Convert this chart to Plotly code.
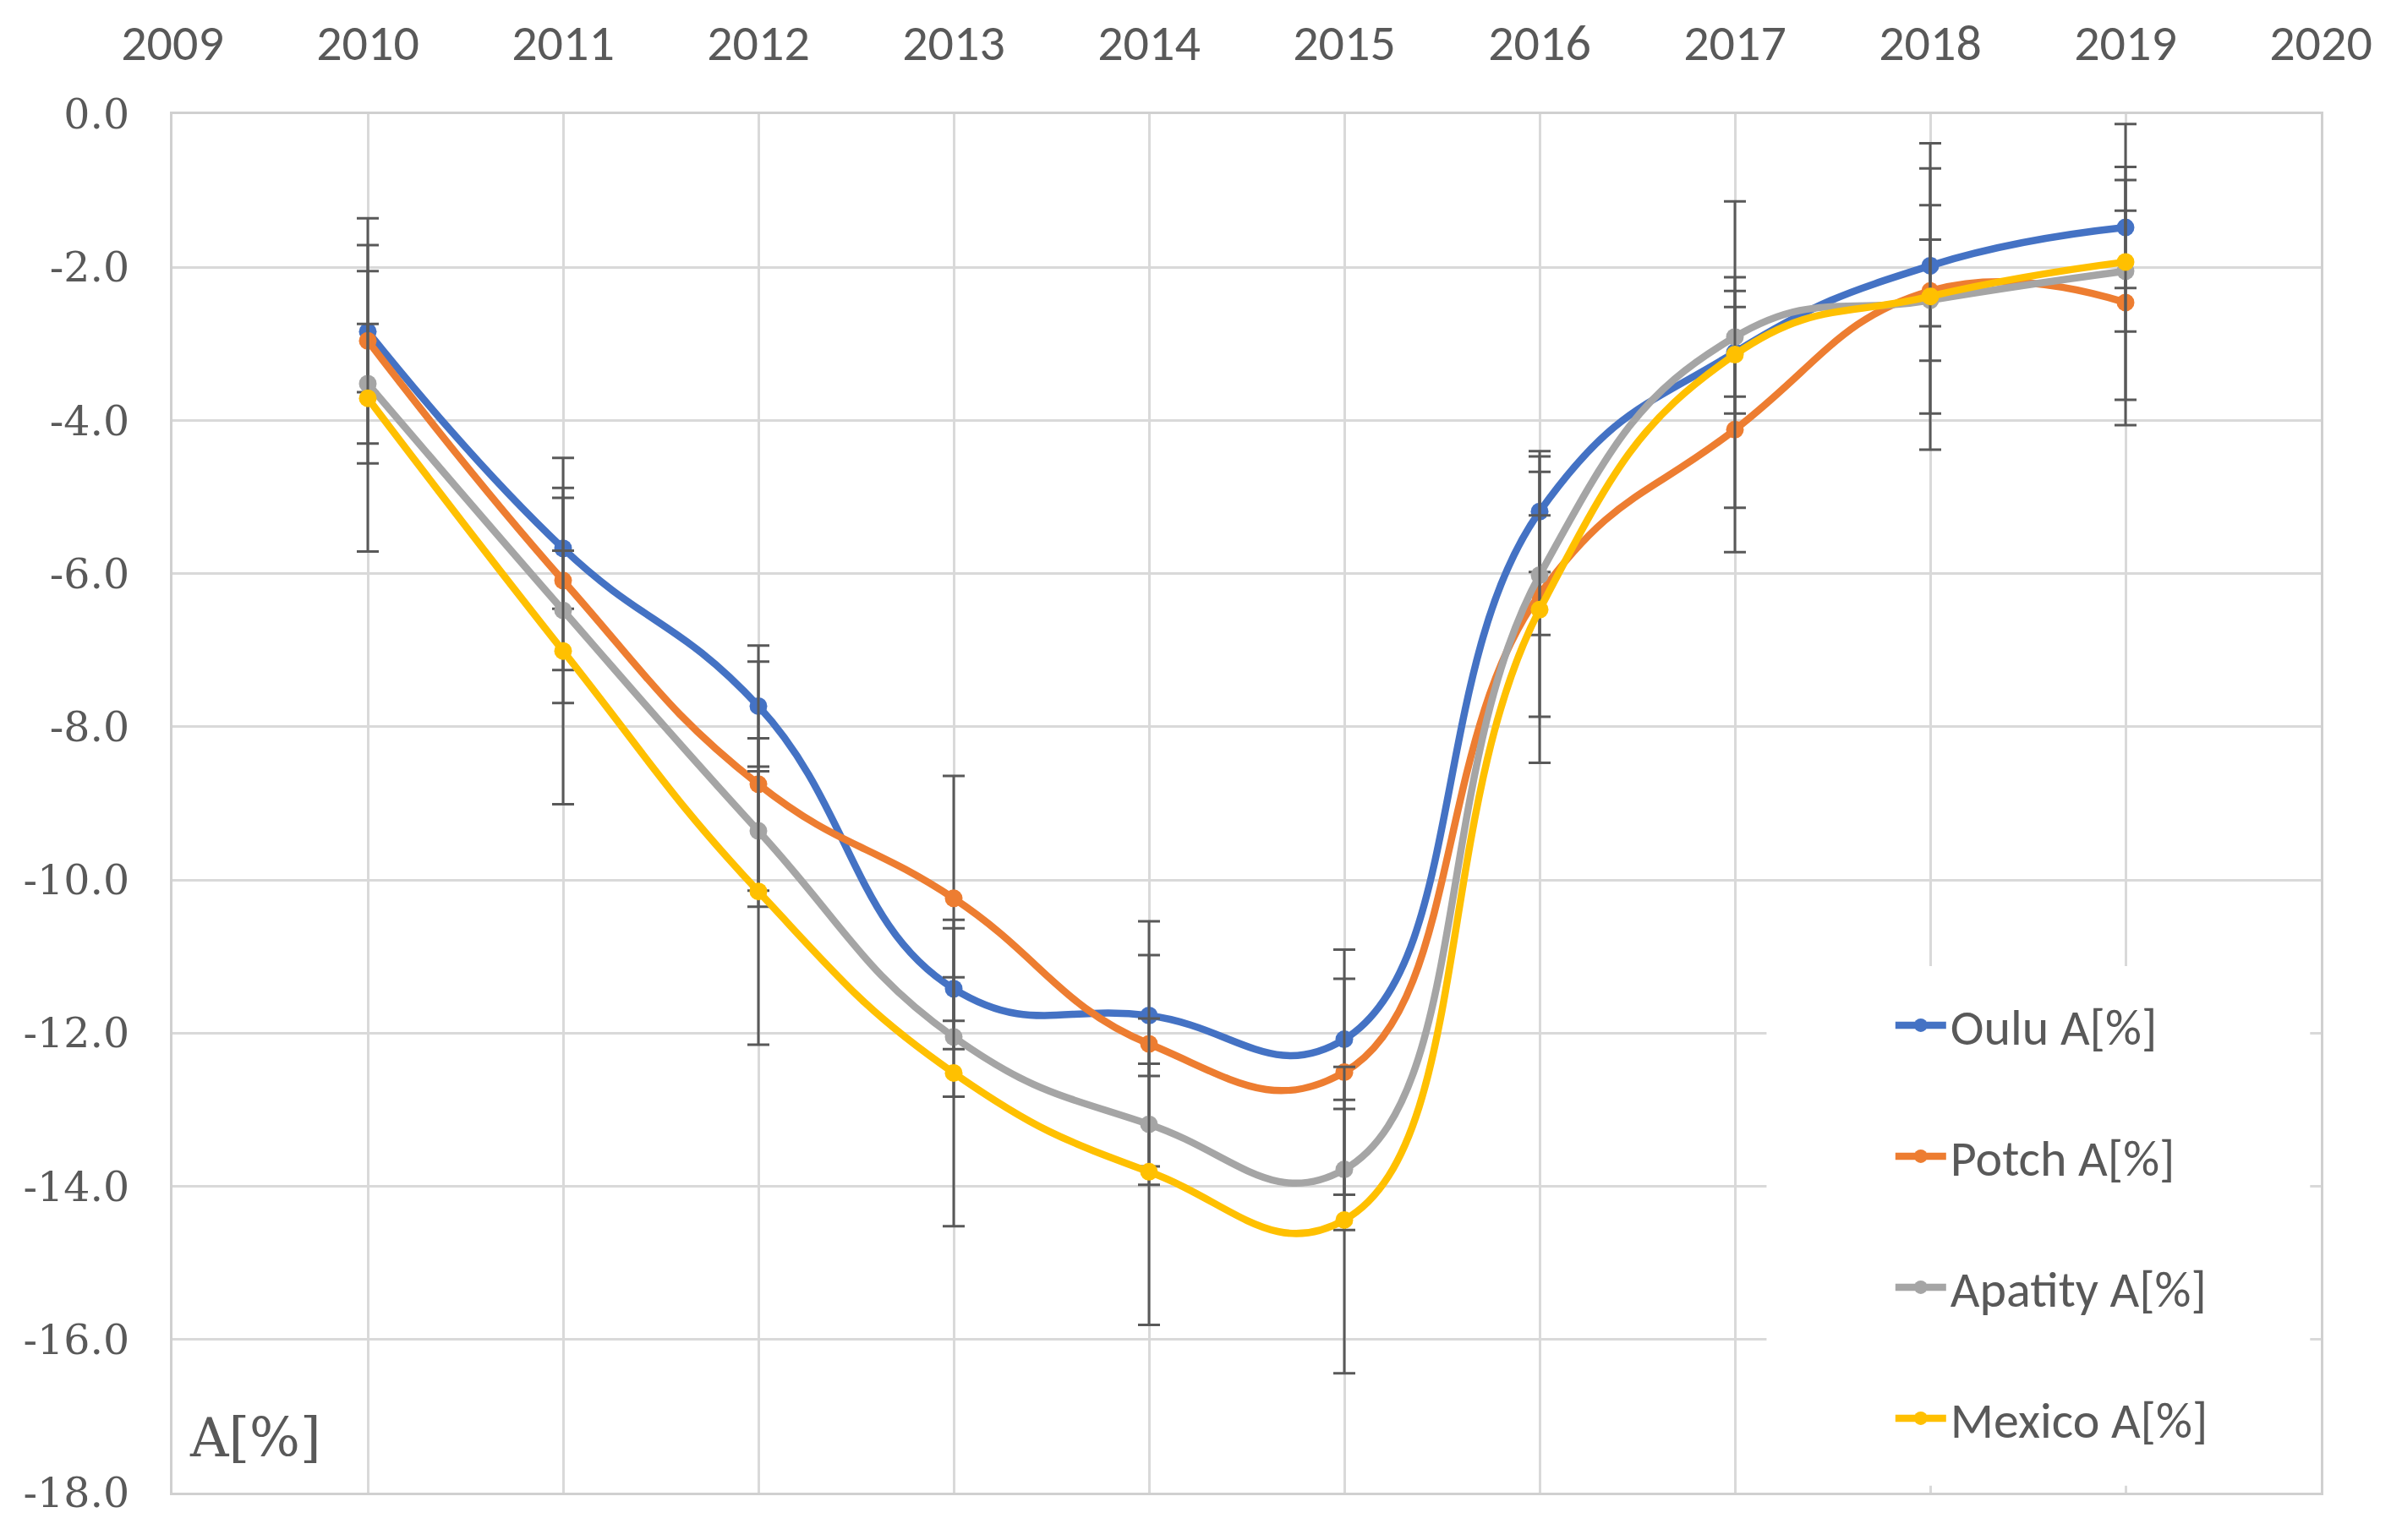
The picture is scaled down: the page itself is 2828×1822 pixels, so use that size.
import plotly.graph_objects as go

years = [2010, 2011, 2012, 2013, 2014, 2015, 2016, 2017, 2018, 2019]

oulu = [-2.84, -5.67, -7.73, -11.42, -11.77, -12.08, -5.19, -3.11, -1.98, -1.48]
potch = [-2.96, -6.09, -8.75, -10.24, -12.14, -12.51, -6.27, -4.12, -2.31, -2.46]
apatity = [-3.52, -6.48, -9.36, -12.05, -13.19, -13.78, -6.02, -2.91, -2.43, -2.05]
mexico = [-3.71, -7.01, -10.15, -12.52, -13.81, -14.44, -6.47, -3.14, -2.38, -1.93]

oulu_err = [0.79, 0.79, 0.79, 0.79, 0.79, 0.79, 0.79, 0.80, 0.79, 0.79]
potch_err = [1.60, 1.60, 1.60, 1.60, 1.60, 1.60, 1.60, 1.60, 1.60, 1.60]
apatity_err = [0.78, 0.78, 0.78, 0.78, 0.79, 0.79, 0.78, 0.78, 0.79, 0.79]
mexico_err = [2.00, 2.00, 2.00, 2.00, 2.00, 2.00, 2.00, 2.00, 2.00, 1.80]

names = ["Oulu A[%]", "Potch A[%]", "Apatity A[%]", "Mexico A[%]"]
colors = ["#4472C4", "#ED7D31", "#A5A5A5", "#FFC000"]

x_ticks = list(range(2009, 2021))
y_ticks = [0, -2, -4, -6, -8, -10, -12, -14, -16, -18]
y_ticktext = ["0.0", "-2.0", "-4.0", "-6.0", "-8.0", "-10.0", "-12.0",
              "-14.0", "-16.0", "-18.0"]

FONT = "Carlito, Calibri, 'Open Sans', sans-serif"
SERIF = "'DejaVu Serif', 'Liberation Serif', serif"
TXT = "#595959"

fig = go.Figure()
for i, (vals, errs) in enumerate([(oulu, oulu_err), (potch, potch_err),
                                  (apatity, apatity_err), (mexico, mexico_err)]):
    fig.add_trace(go.Scatter(
        x=years, y=vals, name=names[i], legendgroup=names[i],
        mode="lines+markers",
        line=dict(color=colors[i], width=8.5, shape="spline", smoothing=1.3),
        marker=dict(color=colors[i], size=21),
        error_y=dict(type="data", array=errs, symmetric=True,
                     color="#595959", thickness=3, width=13),
    ))

# white box behind the legend (covers gridlines like the original)
fig.add_shape(type="rect", xref="paper", yref="paper",
              x0=0.742, x1=0.995, y0=0.005, y1=0.382,
              fillcolor="white", line=dict(width=0), layer="above")

fig.add_annotation(text="A[%]", xref="paper", yref="paper", x=0.007, y=0.016,
                   xanchor="left", yanchor="bottom", showarrow=False,
                   font=dict(family=SERIF, size=63, color=TXT))

fig.update_layout(
    width=2828, height=1822,
    margin=dict(l=196, r=91, t=127, b=64, autoexpand=False),
    paper_bgcolor="white", plot_bgcolor="white",
    font=dict(family=FONT, size=60, color=TXT),
    showlegend=True,
    legend=dict(x=0.80, y=0.367, xanchor="left", yanchor="top",
                bgcolor="rgba(0,0,0,0)", traceorder="grouped",
                tracegroupgap=74, itemwidth=60,
                font=dict(family=FONT, size=60, color=TXT)),
    xaxis=dict(range=[2009, 2020], tickmode="array", tickvals=x_ticks,
               side="top", showgrid=True, gridcolor="#d9d9d9", gridwidth=2.5,
               showline=True, mirror=True, linecolor="#d0d0d0", linewidth=3,
               zeroline=False, ticks="", ticklabelstandoff=37, automargin=False,
               tickfont=dict(family=FONT, size=60, color=TXT)),
    yaxis=dict(range=[-18, 0], tickmode="array", tickvals=y_ticks,
               ticktext=y_ticktext, showgrid=True, gridcolor="#d9d9d9", gridwidth=2.5,
               showline=True, mirror=True, linecolor="#d0d0d0", linewidth=3,
               zeroline=False, ticks="", ticklabelstandoff=38, automargin=False,
               tickfont=dict(family=SERIF, size=49, color=TXT)),
)

fig.write_html("out.html")
